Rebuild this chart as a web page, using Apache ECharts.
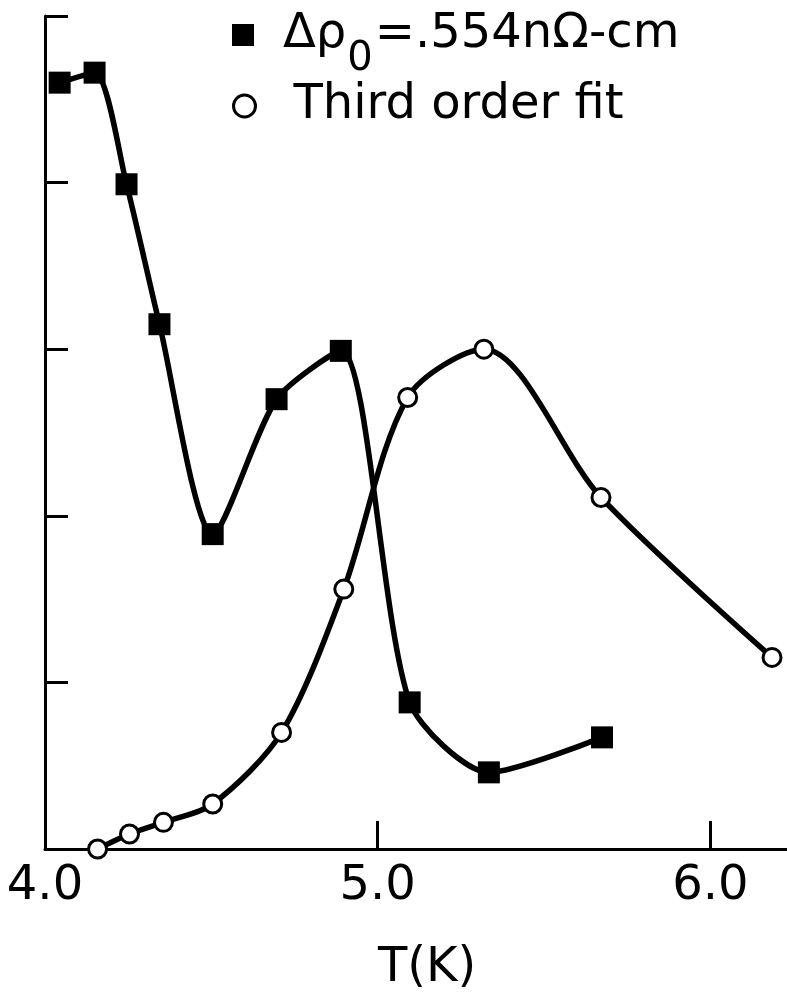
<!DOCTYPE html>
<html>
<head>
<meta charset="utf-8">
<script src="https://cdn.jsdelivr.net/npm/echarts@6/dist/echarts.min.js"></script>
<style>
html,body{margin:0;padding:0;background:#fff;overflow:hidden;}
#c{width:787px;height:998px;}
</style>
</head>
<body>
<div id="c"></div>
<script>
// Data
const rhoT = [4.044, 4.149, 4.245, 4.344, 4.504, 4.696, 4.889, 5.096, 5.334, 5.674];
const rhoV = [4.60, 4.66, 3.99, 3.15, 1.89, 2.70, 2.99, 0.88, 0.46, 0.67];
const fitT = [4.158, 4.254, 4.356, 4.504, 4.711, 4.898, 5.090, 5.319, 5.671, 6.185];
const fitV = [0.00, 0.09, 0.16, 0.27, 0.70, 1.56, 2.71, 3.00, 2.11, 1.15];
const xTickLabels = [4, 5, 6];
const xTickMarks = [5, 6];
const rhoName = 'Δρ0=.554nΩ-cm';
const fitName = 'Third order fit';
const xName = 'T(K)';

const FONT = 'DejaVu Sans';
const chart = echarts.init(document.getElementById('c'), null, {renderer: 'canvas'});
const zip = (a, b) => a.map((v, i) => [v, b[i]]);

chart.setOption({
  backgroundColor: '#fff',
  animation: false,
  grid: {left: 45, right: 0, top: 16, bottom: 145, containLabel: false},
  legend: [{
    data: [{name: rhoName, icon: 'rect'}],
    left: 227, top: -15, itemWidth: 22, itemHeight: 22,
    selectedMode: false,
    formatter: () => '{a|Δρ}{s|0}{a|=.554nΩ-cm}',
    textStyle: {
      color: '#000', fontFamily: FONT, fontSize: 48, padding: [0, 0, 0, 24],
      rich: {
        a: {fontSize: 48, fontFamily: FONT, color: '#000', lineHeight: 56},
        s: {fontSize: 40, fontFamily: FONT, color: '#000', lineHeight: 56, padding: [50, 2, 0, 1]}
      }
    }
  }, {
    data: [{name: fitName, icon: 'circle'}],
    left: 227, top: 73, itemWidth: 22, itemHeight: 22,
    selectedMode: false,
    itemStyle: {color: '#fff', borderColor: '#000', borderWidth: 3},
    textStyle: {color: '#000', fontFamily: FONT, fontSize: 48, lineHeight: 56, padding: [0, 0, 0, 33]}
  }],
  xAxis: {
    type: 'value', min: 4, max: 6.23, interval: 1,
    name: xName, nameLocation: 'middle', nameGap: 96,
    nameTextStyle: {color: '#000', fontFamily: FONT, fontSize: 48, padding: [0, 0, 0, 22]},
    splitLine: {show: false},
    axisLine: {lineStyle: {color: '#000', width: 3}},
    axisTick: {inside: true, length: 28, customValues: xTickMarks, lineStyle: {color: '#000', width: 3}},
    axisLabel: {
      color: '#000', fontFamily: FONT, fontSize: 48, margin: 14,
      customValues: xTickLabels,
      formatter: v => Number(v).toFixed(1)
    }
  },
  yAxis: {
    type: 'value', min: 0, max: 5, interval: 1,
    splitLine: {show: false},
    axisLine: {lineStyle: {color: '#000', width: 3}},
    axisTick: {inside: true, length: 23, lineStyle: {color: '#000', width: 3}},
    axisLabel: {show: false}
  },
  series: [{
    name: rhoName, type: 'line', data: zip(rhoT, rhoV),
    smooth: 0.25, clip: false,
    symbol: 'rect', symbolSize: 22,
    lineStyle: {color: '#000', width: 5.5},
    itemStyle: {color: '#000', borderColor: '#000', borderWidth: 0}
  }, {
    name: fitName, type: 'line', data: zip(fitT, fitV),
    smooth: 0.3, clip: false,
    symbol: 'circle', symbolSize: 18,
    lineStyle: {color: '#000', width: 5.5},
    itemStyle: {color: '#fff', borderColor: '#000', borderWidth: 3}
  }]
});
</script>
</body>
</html>
